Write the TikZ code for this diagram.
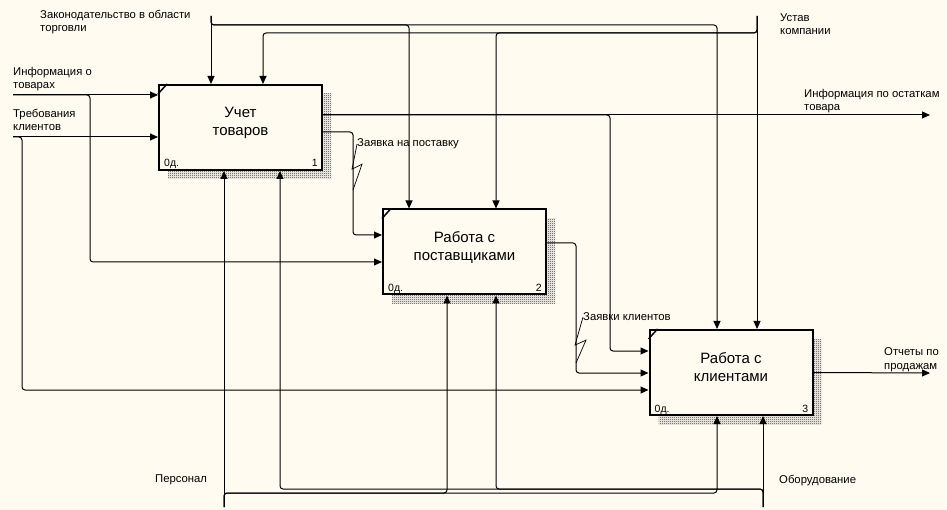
\documentclass[tikz,border=0pt]{standalone}
\usepackage{fontspec}
\setmainfont{Liberation Sans}
\usetikzlibrary{arrows.meta, patterns.meta, shadows, calc}
\definecolor{bgcream}{RGB}{255, 251, 240}

\pgfdeclarepattern{name=shadowdots, type=uncolored,
  bottom left={\pgfpoint{0pt}{0pt}}, top right={\pgfpoint{2pt}{2pt}},
  tile size={\pgfpoint{2pt}{2pt}},
  code={\pgfpathrectangle{\pgfpoint{0pt}{0pt}}{\pgfpoint{1pt}{1pt}}
        \pgfpathrectangle{\pgfpoint{1pt}{1pt}}{\pgfpoint{1pt}{1pt}}
        \pgfusepath{fill}}}

\begin{document}
\begin{tikzpicture}[x=1pt, y=-1pt,
  blk/.style={draw, line width=2pt, fill=bgcream, minimum width=163pt, minimum height=85pt,
              inner sep=0pt, align=center, font=\fontsize{15}{18}\selectfont,
              general shadow={shadow xshift=9pt, shadow yshift=-9pt,
                              pattern=shadowdots, pattern color=black!80}},
  lbl/.style={anchor=base west, inner sep=0pt, align=left, font=\fontsize{11.3}{13.5}\selectfont},
  arr/.style={line width=1pt, rounded corners=3pt, -{Triangle[length=8pt, width=7pt]}},
  squig/.style={line width=0.7pt},
  corner/.style={inner sep=0pt, font=\fontsize{10.5}{11}\selectfont},
]
\useasboundingbox (0,0) rectangle (947,510);
\fill[bgcream] (0,0) rectangle (947,510);

% Function blocks
\node[blk] (b1) at (240.5,127.5) {Учет\\товаров\\[-6pt]};
\node[blk] (b2) at (464.5,252) {Работа с\\поставщиками\\[-6pt]};
\node[blk] (b3) at (731,372.5) {Работа с\\клиентами\\[-6pt]};

\foreach \b/\n in {b1/1, b2/2, b3/3} {
  \draw[line width=1.5pt] ($(\b.north west)+(0,10)$) -- ($(\b.north west)+(9,0)$);
  \node[corner, anchor=base west] (\b-code) at ($(\b.south west)+(6,-4)$) {0д.};
  \node[corner, anchor=base east] (\b-num) at ($(\b.south east)+(-5,-4)$) {\n};
}

% Free ends and joints
\coordinate (in1) at (13,95);
\coordinate (in2) at (13,137);
\coordinate (ctl1) at (211,16);
\coordinate (ctl2) at (757,16);
\coordinate (out1) at (930,115);
\coordinate (out3) at (930,373);
\coordinate (mec1) at (224,507);
\coordinate (mec2) at (763,507);
\coordinate (jA) at (90,262);
\coordinate (jB) at (22,390);
\coordinate (c21) at (409,25);
\coordinate (c31) at (717,25);
\coordinate (c12) at (263,33);
\coordinate (c22) at (496,33);
\coordinate (jE) at (610,351);
\coordinate (jF) at (353,235);
\coordinate (jG) at (576,373);
\coordinate (m21) at (447,493);
\coordinate (m31) at (717,493);
\coordinate (m22) at (496,489);
\coordinate (m12) at (280,489);

% Inputs
\draw[arr] (in1) -- (in1 -| b1.west);
\draw[arr] (in1) -| (jA) -- (jA -| b2.west);
\draw[arr] (in2) -- (in2 -| b1.west);
\draw[arr] (in2) -| (jB) -- (jB -| b3.west);

% Controls
\draw[arr] (ctl1) -- (ctl1 |- b1.north);
\draw[arr] (ctl1) |- (c21) -- (c21 |- b2.north);
\draw[arr] (ctl1) |- (c31) -- (c31 |- b3.north);
\draw[arr] (ctl2) -- (ctl2 |- b3.north);
\draw[arr] (ctl2) |- (c12) -- (c12 |- b1.north);
\draw[arr] (ctl2) |- (c22) -- (c22 |- b2.north);

% Outputs
\draw[arr] ([yshift=12.5pt]b1.east) -- (out1);
\draw[arr] ([yshift=12.5pt]b1.east) -| (jE) -- (jE -| b3.west);
\draw[arr] ([yshift=-4.5pt]b1.east) -| (jF) -- (jF -| b2.west);
\draw[arr] ([yshift=9pt]b2.east) -| (jG) -- (jG -| b3.west);
\draw[arr] (b3.east) -- (out3);

% Mechanisms
\draw[arr] (mec1) -- (mec1 |- b1.south);
\draw[arr] (mec1) |- (m21) -- (m21 |- b2.south);
\draw[arr] (mec1) |- (m31) -- (m31 |- b3.south);
\draw[arr] (mec2) -- (mec2 |- b3.south);
\draw[arr] (mec2) |- (m22) -- (m22 |- b2.south);
\draw[arr] (mec2) |- (m12) -- (m12 |- b1.south);

% Labels (base = last line)
\node[lbl] (lzak) at (40,32) {Законодательство в области\\торговли};
\node[lbl] (lust) at (780,35) {Устав\\компании};
\node[lbl] (linf) at (13,89) {Информация о\\товарах};
\node[lbl] (ltreb) at (13,131) {Требования\\клиентов};
\node[lbl] (lost) at (804,111) {Информация по остаткам\\товара};
\node[lbl] (lotch) at (884,369) {Отчеты по\\продажам};
\node[lbl] (lpers) at (155,482) {Персонал};
\node[lbl] (lobor) at (779,483) {Оборудование};
\node[lbl] (lzp) at (357,147) {Заявка на поставку};
\node[lbl] (lzk) at (583,321) {Заявки клиентов};

% Squiggles
\draw[squig] (lzp.west) -- ++(-5,25) -- ++(10,-5) -- (jF |- 0,190);
\draw[squig] (lzk.west) -- ++(-8,28) -- ++(11,-5) -- (jG |- 0,363);
\end{tikzpicture}
\end{document}
